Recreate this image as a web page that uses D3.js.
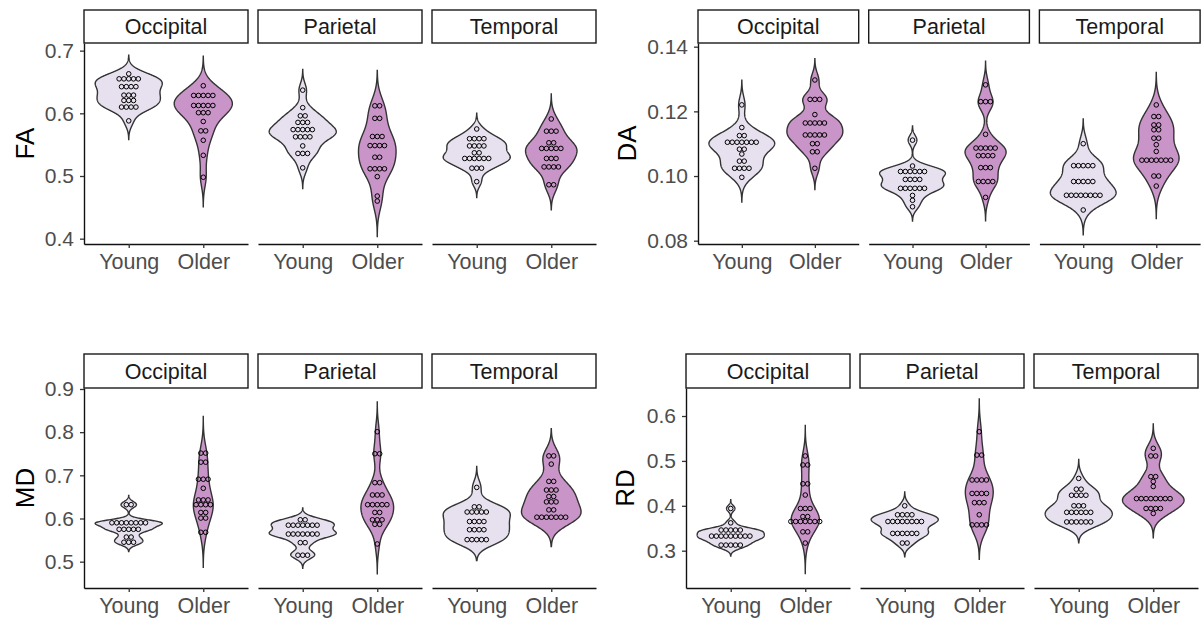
<!DOCTYPE html>
<html>
<head>
<meta charset="utf-8">
<script src="https://cdn.jsdelivr.net/npm/d3@7"></script>
<style>
body { margin: 0; background: #fff; }
svg { display: block; }
text { font-family: "Liberation Sans", Arial, sans-serif; }
</style>
</head>
<body>
<svg width="1201" height="623"></svg>
<script>
var metrics = ["FA", "DA", "MD", "RD"];
var regions = ["Occipital", "Parietal", "Temporal"];
var groups = ["Young", "Older"];
var groupColors = ["#e7e1ef", "#c994c7"];

var FA_ticks = [0.4, 0.5, 0.6, 0.7];
var DA_ticks = [0.08, 0.10, 0.12, 0.14];
var MD_ticks = [0.5, 0.6, 0.7, 0.8, 0.9];
var RD_ticks = [0.3, 0.4, 0.5, 0.6];

var FA_Occipital_Young = [0.663, 0.658, 0.658, 0.652, 0.652, 0.652, 0.645, 0.645, 0.640, 0.640, 0.629, 0.629, 0.629, 0.623, 0.623, 0.618, 0.610, 0.610, 0.610, 0.610, 0.588];
var FA_Occipital_Older = [0.644, 0.631, 0.631, 0.631, 0.626, 0.626, 0.615, 0.615, 0.610, 0.610, 0.610, 0.604, 0.604, 0.598, 0.587, 0.572, 0.572, 0.557, 0.533, 0.498];
var FA_Parietal_Young = [0.637, 0.609, 0.596, 0.596, 0.589, 0.589, 0.582, 0.577, 0.571, 0.571, 0.571, 0.571, 0.566, 0.566, 0.559, 0.559, 0.548, 0.539, 0.539, 0.533, 0.513];
var FA_Parietal_Older = [0.612, 0.612, 0.592, 0.592, 0.566, 0.566, 0.560, 0.552, 0.545, 0.545, 0.545, 0.530, 0.530, 0.515, 0.515, 0.515, 0.508, 0.499, 0.468, 0.460];
var FA_Temporal_Young = [0.575, 0.563, 0.563, 0.556, 0.556, 0.548, 0.548, 0.548, 0.548, 0.537, 0.537, 0.531, 0.531, 0.531, 0.525, 0.525, 0.525, 0.516, 0.516, 0.509, 0.491];
var FA_Temporal_Older = [0.591, 0.575, 0.575, 0.568, 0.553, 0.553, 0.544, 0.544, 0.544, 0.544, 0.544, 0.531, 0.531, 0.525, 0.517, 0.517, 0.517, 0.512, 0.486, 0.486];

var DA_Occipital_Young = [0.1220, 0.1150, 0.1125, 0.1125, 0.1110, 0.1110, 0.1110, 0.1099, 0.1099, 0.1099, 0.1099, 0.1083, 0.1083, 0.1068, 0.1052, 0.1040, 0.1024, 0.1024, 0.1024, 0.1024, 0.0996];
var DA_Occipital_Older = [0.1297, 0.1237, 0.1237, 0.1237, 0.1190, 0.1171, 0.1171, 0.1171, 0.1157, 0.1157, 0.1132, 0.1132, 0.1132, 0.1122, 0.1122, 0.1100, 0.1100, 0.1075, 0.1075, 0.1024];
var DA_Parietal_Young = [0.1111, 0.1031, 0.1019, 0.1019, 0.1019, 0.1009, 0.1009, 0.1009, 0.0996, 0.0996, 0.0983, 0.0983, 0.0969, 0.0969, 0.0969, 0.0969, 0.0955, 0.0955, 0.0940, 0.0925, 0.0905];
var DA_Parietal_Older = [0.1282, 0.1237, 0.1223, 0.1223, 0.1129, 0.1093, 0.1093, 0.1093, 0.1080, 0.1080, 0.1068, 0.1068, 0.1058, 0.1058, 0.1026, 0.1026, 0.1026, 0.0988, 0.0988, 0.0978, 0.0978, 0.0934];
var DA_Temporal_Young = [0.1100, 0.1037, 0.1037, 0.1037, 0.1037, 0.1027, 0.0988, 0.0988, 0.0978, 0.0978, 0.0978, 0.0947, 0.0947, 0.0947, 0.0934, 0.0934, 0.0934, 0.0934, 0.0934, 0.0895];
var DA_Temporal_Older = [0.1220, 0.1184, 0.1184, 0.1158, 0.1158, 0.1143, 0.1143, 0.1117, 0.1117, 0.1097, 0.1076, 0.1055, 0.1055, 0.1055, 0.1055, 0.1043, 0.1043, 0.1043, 0.1000, 0.1000, 0.0969];

var MD_Occipital_Young = [0.632, 0.632, 0.590, 0.590, 0.590, 0.590, 0.590, 0.590, 0.590, 0.590, 0.575, 0.575, 0.575, 0.575, 0.575, 0.557, 0.557, 0.545, 0.545, 0.545];
var MD_Occipital_Older = [0.755, 0.748, 0.736, 0.725, 0.691, 0.691, 0.691, 0.670, 0.643, 0.643, 0.643, 0.636, 0.636, 0.628, 0.628, 0.614, 0.614, 0.601, 0.601, 0.568, 0.568];
var MD_Parietal_Young = [0.597, 0.597, 0.589, 0.589, 0.589, 0.589, 0.580, 0.580, 0.580, 0.564, 0.564, 0.564, 0.564, 0.564, 0.564, 0.564, 0.544, 0.544, 0.518, 0.518, 0.512];
var MD_Parietal_Older = [0.801, 0.750, 0.750, 0.683, 0.683, 0.660, 0.649, 0.649, 0.637, 0.637, 0.637, 0.627, 0.627, 0.614, 0.614, 0.597, 0.597, 0.597, 0.590, 0.583, 0.541];
var MD_Temporal_Young = [0.672, 0.627, 0.627, 0.620, 0.620, 0.620, 0.610, 0.610, 0.598, 0.598, 0.588, 0.588, 0.574, 0.574, 0.574, 0.574, 0.551, 0.551, 0.551, 0.551, 0.551];
var MD_Temporal_Older = [0.745, 0.745, 0.726, 0.686, 0.686, 0.666, 0.666, 0.666, 0.651, 0.651, 0.643, 0.634, 0.634, 0.620, 0.620, 0.608, 0.608, 0.608, 0.598, 0.598, 0.598, 0.598];

var RD_Occipital_Young = [0.394, 0.362, 0.346, 0.346, 0.346, 0.346, 0.346, 0.337, 0.337, 0.337, 0.337, 0.328, 0.328, 0.328, 0.328, 0.328, 0.317, 0.317, 0.317, 0.308, 0.308];
var RD_Occipital_Older = [0.511, 0.491, 0.491, 0.454, 0.444, 0.424, 0.394, 0.394, 0.394, 0.376, 0.376, 0.368, 0.368, 0.368, 0.368, 0.362, 0.362, 0.362, 0.342, 0.342, 0.317];
var RD_Parietal_Young = [0.400, 0.380, 0.380, 0.380, 0.380, 0.370, 0.370, 0.370, 0.370, 0.360, 0.360, 0.360, 0.360, 0.342, 0.342, 0.342, 0.335, 0.335, 0.335, 0.317, 0.317];
var RD_Parietal_Older = [0.565, 0.513, 0.513, 0.461, 0.461, 0.454, 0.454, 0.431, 0.431, 0.431, 0.424, 0.410, 0.404, 0.404, 0.380, 0.361, 0.361, 0.354, 0.354];
var RD_Temporal_Young = [0.461, 0.437, 0.437, 0.428, 0.428, 0.419, 0.419, 0.400, 0.400, 0.400, 0.389, 0.389, 0.389, 0.382, 0.382, 0.382, 0.368, 0.368, 0.368, 0.360, 0.360, 0.360];
var RD_Temporal_Older = [0.528, 0.511, 0.511, 0.465, 0.465, 0.454, 0.443, 0.420, 0.420, 0.420, 0.420, 0.420, 0.420, 0.412, 0.412, 0.394, 0.394, 0.394, 0.394, 0.383];

var values = {
    FA: { Occipital: [FA_Occipital_Young, FA_Occipital_Older], Parietal: [FA_Parietal_Young, FA_Parietal_Older], Temporal: [FA_Temporal_Young, FA_Temporal_Older] },
    DA: { Occipital: [DA_Occipital_Young, DA_Occipital_Older], Parietal: [DA_Parietal_Young, DA_Parietal_Older], Temporal: [DA_Temporal_Young, DA_Temporal_Older] },
    MD: { Occipital: [MD_Occipital_Young, MD_Occipital_Older], Parietal: [MD_Parietal_Young, MD_Parietal_Older], Temporal: [MD_Temporal_Young, MD_Temporal_Older] },
    RD: { Occipital: [RD_Occipital_Young, RD_Occipital_Older], Parietal: [RD_Parietal_Young, RD_Parietal_Older], Temporal: [RD_Temporal_Young, RD_Temporal_Older] }
};

// layout of the four ggplot panels (pixels)
var panels = [
    { metric: "FA", ticks: FA_ticks, fmt: ".1f", domain: [0.3915, 0.7122], x0: [84, 258, 432], w: 164, titleX: 25, stripTop: 10, top: 43, bottom: 244 },
    { metric: "DA", ticks: DA_ticks, fmt: ".2f", domain: [0.07898, 0.14114], x0: [698, 868.7, 1039.4], w: 160.7, titleX: 627, stripTop: 10, top: 43, bottom: 244 },
    { metric: "MD", ticks: MD_ticks, fmt: ".1f", domain: [0.439, 0.9023], x0: [84, 258, 432], w: 164, titleX: 25, stripTop: 354, top: 388, bottom: 588 },
    { metric: "RD", ticks: RD_ticks, fmt: ".1f", domain: [0.2169, 0.6624], x0: [686, 860, 1034], w: 164, titleX: 625, stripTop: 354, top: 388, bottom: 588 }
];

function nrd0(v) {
    var s = d3.deviation(v);
    var iqr = (d3.quantile(v, 0.75) - d3.quantile(v, 0.25)) / 1.34;
    var lo = Math.min(s, iqr);
    if (!(lo > 0)) lo = s;
    return 0.9 * lo * Math.pow(v.length, -0.2);
}

function density(v) {
    var bw = nrd0(v);
    var lo = d3.min(v) - 3 * bw, hi = d3.max(v) + 3 * bw, n = 256;
    return d3.range(n).map(function(i) {
        var y = lo + (hi - lo) * i / (n - 1);
        var d = d3.mean(v, function(x) { var u = (y - x) / bw; return Math.exp(-0.5 * u * u); }) / (bw * Math.sqrt(2 * Math.PI));
        return [y, d];
    });
}

// ggplot "dotdensity" binning done in pixel space
function dotBins(v, y, bw) {
    var py = v.map(y).sort(d3.descending);
    var bins = [], i = 0;
    while (i < py.length) {
        var start = py[i], j = i;
        while (j < py.length && start - py[j] < bw) j++;
        bins.push({ cy: (start + py[j - 1]) / 2, n: j - i });
        i = j;
    }
    return bins;
}

var svg = d3.select("svg");
var dotD = 4.8;

panels.forEach(function(p) {
    var g = svg.append("g");
    var y = d3.scaleLinear().domain(p.domain).range([p.bottom, p.top]);

    var yAxis = g.append("g")
        .attr("transform", "translate(" + p.x0[0] + ",0)")
        .call(d3.axisLeft(y).tickValues(p.ticks).tickFormat(d3.format(p.fmt)).tickSize(4).tickSizeOuter(0).tickPadding(6));
    yAxis.select(".domain").attr("stroke", "#111").attr("stroke-width", 1.4);
    yAxis.selectAll(".tick line").attr("stroke", "#333").attr("stroke-width", 1.3);
    yAxis.selectAll(".tick text").attr("fill", "#4d4d4d").style("font-size", "21px").attr("font-family", null);

    g.append("text")
        .attr("transform", "translate(" + p.titleX + "," + ((p.top + p.bottom) / 2) + ") rotate(-90)")
        .attr("text-anchor", "middle")
        .attr("dy", "0.35em")
        .style("font-size", "26px")
        .attr("fill", "#000")
        .text(p.metric);

    p.x0.forEach(function(x0, fi) {
        var region = regions[fi];
        var x = d3.scalePoint().domain(groups).range([x0, x0 + p.w]).padding(0.6);
        var half = 0.45 * x.step();

        g.append("rect")
            .attr("x", x0).attr("y", p.stripTop)
            .attr("width", p.w).attr("height", p.top - p.stripTop)
            .attr("fill", "#fff").attr("stroke", "#1a1a1a").attr("stroke-width", 1.4);
        g.append("text")
            .attr("x", x0 + p.w / 2).attr("y", (p.stripTop + p.top) / 2)
            .attr("text-anchor", "middle").attr("dy", "0.36em")
            .style("font-size", "21.5px").attr("fill", "#1a1a1a")
            .text(region);

        var xAxis = g.append("g")
            .attr("transform", "translate(0," + p.bottom + ")")
            .call(d3.axisBottom(x).tickSize(4).tickSizeOuter(0).tickPadding(6));
        xAxis.select(".domain").attr("stroke", "#111").attr("stroke-width", 1.4);
        xAxis.selectAll(".tick line").attr("stroke", "#333").attr("stroke-width", 1.3);
        xAxis.selectAll(".tick text").attr("fill", "#4d4d4d").style("font-size", "21.5px").attr("font-family", null);

        var sets = values[p.metric][region];
        var dens = sets.map(density);
        var maxD = d3.max(dens, function(d) { return d3.max(d, function(e) { return e[1]; }); });

        var line = d3.line();
        groups.forEach(function(grp, gi) {
            var cx = x(grp);
            var right = dens[gi].map(function(e) { return [cx + e[1] / maxD * half, y(e[0])]; });
            var left = dens[gi].map(function(e) { return [cx - e[1] / maxD * half, y(e[0])]; }).reverse();
            g.append("path")
                .attr("d", line(right.concat(left)) + "Z")
                .attr("fill", groupColors[gi])
                .attr("stroke", "#333")
                .attr("stroke-width", 1.4);

            var bins = dotBins(sets[gi], y, dotD);
            bins.forEach(function(b) {
                d3.range(b.n).forEach(function(k) {
                    g.append("circle")
                        .attr("cx", cx + (k - (b.n - 1) / 2) * dotD)
                        .attr("cy", b.cy)
                        .attr("r", dotD / 2 - 0.1)
                        .attr("fill", "none")
                        .attr("stroke", "#000")
                        .attr("stroke-width", 1);
                });
            });
        });
    });
});
</script>
</body>
</html>
